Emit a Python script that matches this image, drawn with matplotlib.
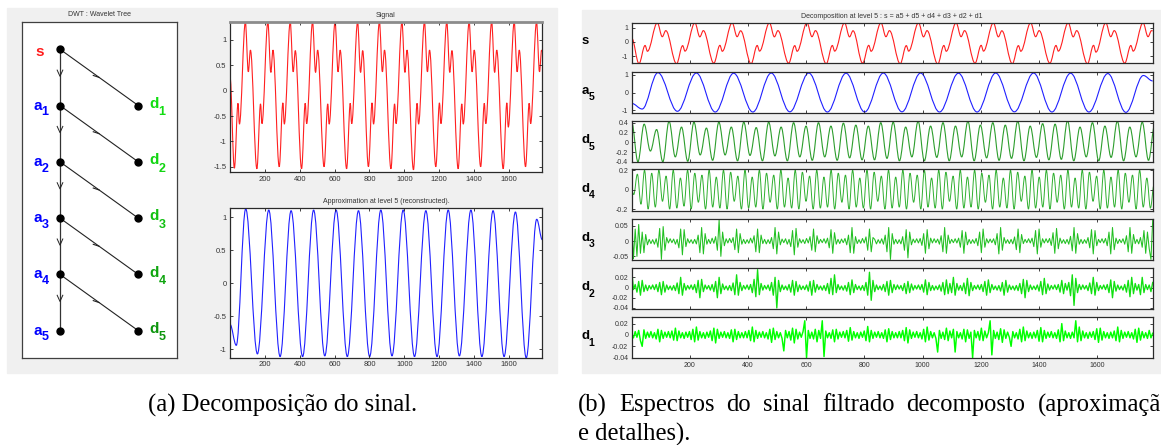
import numpy as np
import matplotlib
matplotlib.use("Agg")
import matplotlib.pyplot as plt
from matplotlib.path import Path
from matplotlib.patches import PathPatch, Rectangle
from matplotlib.ticker import FuncFormatter

W, H = 1161, 445
plt.rcParams['axes.unicode_minus'] = False

# signal s : extrema (sample index, value)
sig_x = [1, 26, 47, 55, 89, 106, 118,
         155, 176, 184, 218, 235, 247,
         283, 304, 312, 346, 363, 375,
         411, 432, 440, 474, 491, 503,
         540, 561, 569, 603, 620, 632,
         669, 690, 698, 732, 749, 761,
         794, 815, 823, 857, 874, 886,
         923, 944, 952, 986, 1003, 1015,
         1052, 1073, 1081, 1115, 1132, 1144,
         1180, 1201, 1209, 1243, 1260, 1272,
         1308, 1329, 1337, 1371, 1388, 1400,
         1437, 1458, 1466, 1500, 1517, 1529,
         1566, 1587, 1595, 1629, 1646, 1658,
         1694, 1715, 1723, 1757, 1774, 1786, 1790]
sig_y = [0.28, -1.53, -0.25, -0.66, 1.35, 0.37, 0.80,
         -1.54, -0.26, -0.65, 1.35, 0.36, 0.80,
         -1.50, -0.24, -0.66, 1.35, 0.37, 0.79,
         -1.54, -0.25, -0.65, 1.35, 0.36, 0.80,
         -1.50, -0.26, -0.66, 1.35, 0.37, 0.80,
         -1.54, -0.25, -0.65, 1.35, 0.36, 0.79,
         -1.50, -0.24, -0.66, 1.35, 0.37, 0.80,
         -1.54, -0.26, -0.65, 1.35, 0.36, 0.80,
         -1.56, -0.25, -0.66, 1.35, 0.37, 0.80,
         -1.50, -0.24, -0.65, 1.35, 0.36, 0.79,
         -1.54, -0.26, -0.66, 1.35, 0.37, 0.80,
         -1.50, -0.25, -0.65, 1.35, 0.36, 0.80,
         -1.54, -0.24, -0.72, 1.35, 0.37, 0.80,
         -1.50, -0.25, -0.65, 1.35, 0.37, 0.80, 0.78]

# approximation a5 : extrema
a5_x = [1, 37, 91, 158, 223, 288, 351, 417, 480, 544, 609, 673, 737, 801, 865,
        929, 993, 1058, 1123, 1187, 1251, 1315, 1381, 1444, 1508, 1571, 1636,
        1698, 1758, 1790]
a5_y = [-0.62, -0.94, 1.13, -1.07, 1.11, -1.11, 1.10, -1.11, 1.11, -1.10, 1.11,
        -1.11, 1.10, -1.11, 1.11, -1.10, 1.11, -1.11, 1.10, -1.11, 1.11, -1.10,
        1.11, -1.11, 1.10, -1.11, 1.08, -1.13, 0.97, 0.66]

# d5 : extrema every half period (x 1/100)
d5_start, d5_step = 1, 21.38
d5 = [41, -40, 37, -18, 26, -40, 43, -30, 31, -39, 41, -26, 29, -37, 41, -26,
      31, -38, 41, -27, 30, -38, 41, -28, 31, -38, 40, -30, 33, -37, 40, -30,
      33, -37, 39, -32, 35, -36, 33, -36, 40, -33, 41, -38, 31, -30, 43, -38,
      33, -31, 40, -38, 33, -30, 43, -38, 35, -32, 40, -37, 35, -33, 43, -38,
      33, -31, 38, -36, 37, -35, 44, -38, 31, -30, 40, -38, 33, -31, 43, -38,
      31, -30, 41, -37, 35]

# d4 : extrema every half period (x 1/100)
d4_start, d4_step = -4.2, 12.32
d4 = [5, -5, 16, -15, 20, -20, 17, -18, 20, -12, 14, -20, 20, -19, 12, -17,
      20, -20, 17, -13, 15, -20, 20, -18, 13, -19, 20, -20, 18, -12, 14, -20,
      20, -19, 13, -18, 20, -20, 17, -13, 15, -20, 20, -18, 12, -19, 20, -20,
      18, -12, 14, -20, 20, -19, 13, -18, 20, -20, 17, -13, 15, -20, 20, -18,
      12, -19, 20, -20, 18, -12, 14, -20, 20, -19, 13, -18, 20, -20, 17, -13,
      15, -20, 20, -18, 12, -19, 20, -20, 18, -12, 14, -20, 20, -19, 13, -18,
      20, -20, 17, -13, 15, -20, 20, -18, 12, -19, 20, -20, 18, -12, 14, -20,
      20, -19, 13, -18, 20, -20, 17, -13, 15, -20, 20, -18, 12, -19, 20, -20,
      18, -12, 14, -20, 20, -19, 13, -18, 20, -20, 17, -13, 15, -20, 20, -18,
      12, -19, 5]

# d3, d2, d1 : samples every 6 points (x 1/1000)
d3 = [70, -58, 40, -50, 55, -40, 30, -38, 22, -12,
      6, -8, 5, -10, 8, -20, 42, -60, 48, -30, 12,
      -6, 8, -5, 7, -10, 6, -22, 40, -45, 38, -18,
      8, -6, 5, -8, 6, -9, 20, -38, 45, -42, 25,
      -10, 6, -8, 10, -7, 15, -30, 70, -50, 30,
      -15, 8, -6, 9, -5, 12, -28, 40, -38, 25, -10,
      6, -8, 5, -7, 10, -6, 18, -35, 40, -38, 20,
      -8, 6, -9, 5, -8, 12, -25, 45, -42, 30, -12,
      7, -5, 8, -10, 6, -18, 35, -45, 42, -20,
      8, -6, 5, -8, 9, -6, 15, -30, 40, -35, 18,
      -8, 6, -5, 8, -7, 10, -22, 38, -40, 28, -10,
      6, -8, 7, -5, 9, -12, 20, -38, 45, -40, 15,
      -8, 5, -7, 9, -6, 14, -30, 40, -35, 12,
      6, -9, 5, -7, 8, -10, 20, -35, 45, -60, 25,
      -10, 6, -8, 5, -9, 15, -30, 38, -55, 30, -12,
      7, -5, 8, -6, 9, -14, 25, -40, 38, -25, 10,
      -6, 8, -5, 7, -10, 18, -35, 45, -40, 20,
      -8, 6, -5, 8, -6, 10, -20, 35, -40, 30, -12,
      6, -8, 5, -7, 9, -15, 30, -38, 40, -20, 8,
      -6, 7, -5, 8, -12, 25, -42, 45, -30, 12,
      -7, 5, -8, 6, -9, 14, -28, 40, -38, 22, -8,
      6, -5, 8, -6, 10, -18, 35, -42, 40, -20, 8,
      -6, 8, -5, 9, -14, 28, -40, 42, -25, 10,
      -7, 5, -8, 6, -10, 16, -32, 45, -40, 25, -10,
      6, -8, 5, -7, 12, -22, 38, -42, 35, -15, 6,
      -5, 8, -6, 9, -15, 30, -42, 45, -28, 10,
      -8, 6, -5, 8, -10, 18, -35, 45, -40, 22, -8,
      6, -9, 12, -20, 35, -40, 30, -25, -60, 70]

d2 = [36, -4, 6, -9, 12, -15, 14, -8, 5, -6, 4,
      -3, 5, -4, 6, -8, 10, -14, 12, -9, 5, -4,
      3, -5, 4, -6, 9, -12, 20, -15, 8, -5, 4,
      -3, 5, -4, 6, -10, 14, -20, 16, -8, 5, -3,
      4, -5, 6, -8, 12, -20, 20, -12, 7, -4, 3,
      -5, 4, -6, 9, -14, 25, -15, 10, -6, 4, -3,
      5, -4, 6, -10, 16, -18, 35, -14, 8, -5, 4,
      -3, 5, -6, 10, -15, 20, -40, 14, -8, 5, -4,
      3, -5, 6, -9, 14, -15, 12, -8, 5, -4, 3,
      -4, 5, -7, 12, -15, 14, -9, 6, -4, 3, -5,
      4, -6, 8, -12, 18, -14, 25, -10, 6, -4, 3,
      -5, 4, -7, 10, -14, 15, -10, 6, -4, 3, -5,
      4, -6, 10, -15, 30, -25, 14, -8, 5, -4, 3,
      -5, 6, -8, 12, -15, 14, -10, 6, -4, 5, -3,
      4, -6, 8, -12, 12, -10, 7, -5, 4, -3, 5,
      -4, 6, -9, 15, -14, 10, -6, 4, -5, 3, -4,
      5, -7, 10, -14, 15, -12, 8, -10, 20, -15, 8,
      -5, 4, -6, 9, -12, 18, -16, 10, -6, 4, -3,
      5, -4, 6, -8, 12, -15, 15, -10, 6, -4, 3,
      -5, 4, -7, 10, -15, 14, -9, 5, -4, 3, -5,
      4, -6, 8, -12, 16, -20, 14, -8, 5, -4, 3,
      -4, 5, -7, 12, -14, 18, -12, 7, -5, 4, -3,
      5, -4, 6, -9, 14, -12, 8, -5, 10, -16, 25,
      -35, 18, -10, 6, -4, 5, -3, 4, -6, 9, -12,
      20, -15, 10, -6, 4, -3, 5, -4, 6, -10, 15,
      -20, 12, -7, 5, -4, 3, -5, 6, -9, 14, -18,
      20, -12, 8, -5, 6, -14, 20, -10, 6, -4, 5, -8, 10]

d1 = [2, -5, 6, -4, 8, -10, -20, 9, -6, 5, -4,
      6, -5, 4, -7, 10, -12, 8, -6, 5, -4, 6,
      -5, 7, -9, 12, -10, 7, -5, 4, -6, 5, -4,
      6, -8, 10, -12, 14, -9, 6, -5, 4, -6, 5,
      -4, 7, -10, 12, -14, 10, -6, 5, -4, 6, -5,
      4, -6, 9, -12, 10, -8, 6, -5, 4, -5, 6,
      -5, 8, -10, 14, -12, 8, -6, 5, -4, 6, -5,
      4, -7, 10, -13, 12, -8, 6, -5, 4, -6, -28,
      8, -5, 6, -9, 12, -14, 10, -7, 5, -4, 6,
      25, -40, 8, -6, 5, -7, 10, -12, 8, -6, 25,
      -38, 7, -5, 4, -6, 9, -12, 10, -7, 5, -4,
      6, -5, 8, -11, 13, -9, 6, -5, 4, -6, 5,
      -4, 7, -10, 15, -12, 8, -6, 5, -4, 6, -5,
      4, -6, 9, -12, 11, -8, 6, -5, 4, -5, 6,
      -5, 8, -10, 13, -14, 9, -6, 5, -4, 6, -5,
      4, -7, 10, -12, 14, -9, 6, -5, 4, -6, -30,
      8, -6, 5, -8, 12, -10, 7, -5, 10, -30, 6,
      -5, 4, -7, 10, -12, 9, -6, 5, -40, 8, -5,
      6, -9, 12, -10, 7, -5, 4, 25, -35, 8, -6,
      5, -8, 11, -13, 9, -6, 5, -4, -20, 6, -5,
      4, -7, 10, -12, 14, -10, 7, -5, 4, -6, 5,
      -5, 8, -11, 13, -12, 8, -6, 5, -4, 6, -5,
      4, -6, 9, -12, 20, -10, 7, -5, 4, -6, 5,
      -5, 25, -12, 14, -10, 7, -5, 4, -6, 5, -4,
      6, -8, 11, -13, 12, -9, 6, -5, 4, -6, 5,
      -5, 7, -10, 14, -12, 8, -6, 5, -4, 6, -5,
      4, -7, 10, -13, 12, -9, 6, -5, 4, -6, 8, -5, 3]

x_ticks = [200, 400, 600, 800, 1000, 1200, 1400, 1600]

caption_a = '(a) Decomposição do sinal.'
caption_b1 = '(b) Espectros do sinal filtrado decomposto (aproximação'
caption_b2 = 'e detalhes).'

RED = '#ff2020'
BLUE = '#2020ff'
row_colors = {'d5': '#2e9e2e', 'd4': '#30b030', 'd3': '#22c022',
              'd2': '#10e010', 'd1': '#00ff00'}
tree_d_colors = ['#11dd11', '#11d511', '#11c011', '#0fa50f', '#0c950c']


def px(x0, y0, x1, y1):
    return [x0 / W, 1 - y1 / H, (x1 - x0) / W, (y1 - y0) / H]


def smooth(ax, x, y, color, lw=0.8):
    # cubic segments between consecutive extrema, flat at each extremum
    x = np.asarray(x, float)
    y = np.asarray(y, float)
    verts = [(x[0], y[0])]
    codes = [Path.MOVETO]
    for i in range(len(x) - 1):
        dx = x[i + 1] - x[i]
        verts += [(x[i] + 0.36 * dx, y[i]), (x[i + 1] - 0.36 * dx, y[i + 1]),
                  (x[i + 1], y[i + 1])]
        codes += [Path.CURVE4] * 3
    ax.add_patch(PathPatch(Path(verts, codes), fill=False, ec=color, lw=lw))


def style(ax, ylim, yticks, xlabels=True, size=5.5):
    ax.set_xlim(1, 1790)
    ax.set_ylim(ylim)
    ax.set_xticks(x_ticks)
    ax.set_yticks(yticks)
    ax.yaxis.set_major_formatter(FuncFormatter(lambda v, p: f"{v:g}"))
    ax.tick_params(direction='in', length=2.5, width=0.6, top=True, right=True,
                   labelsize=size, labelcolor='#333333', color='#222222', pad=2.5)
    if not xlabels:
        ax.tick_params(labelbottom=False)
    for s in ax.spines.values():
        s.set_color('#2a2a2a')
        s.set_linewidth(0.9)
    for lab in ax.get_xticklabels() + ax.get_yticklabels():
        lab.set_family('Liberation Sans')


def ftext(x, y, s, **kw):
    return fig.text(x / W, 1 - y / H, s, **kw)


fig = plt.figure(figsize=(W / 100, H / 100), dpi=100)

# grey panels
fig.patches.append(Rectangle((7 / W, 1 - 373 / H), 550 / W, 365 / H,
                             transform=fig.transFigure, color='#f0f0f0', zorder=-5))
fig.patches.append(Rectangle((582 / W, 1 - 373 / H), 579 / W, 363 / H,
                             transform=fig.transFigure, color='#f0f0f0', zorder=-5))

# ---- wavelet tree ----
tr = fig.add_axes(px(21.7, 21.7, 177.3, 358.3))
tr.set_xlim(-0.489, 1.498)
tr.set_ylim(5.49, -0.49)
tr.set_xticks([])
tr.set_yticks([])
for s in tr.spines.values():
    s.set_color('#404040')
    s.set_linewidth(0.9)
levels = [0, 1, 2, 3, 4, 5]
tr.plot([0, 0], [0, 5], color='#333333', lw=0.9)
for i in levels[:-1]:
    tr.plot([0, 1], [i, i + 1], color='#222222', lw=0.8)
    t = i + 0.48
    tr.plot([-0.036, 0, 0.036], [t - 0.11, t, t - 0.11], color='#222222', lw=0.7)
    tx, ty = 0.5, i + 0.5
    tr.plot([tx - 0.075, tx], [ty - 0.035, ty], color='#222222', lw=0.8)
tr.plot([0] * 6, levels, 'o', color='k', ms=5)
tr.plot([1] * 5, levels[1:], 'o', color='k', ms=5)
tr.text(-0.255, 0.04, 's', color='#ff1a1a', fontsize=11, fontweight='bold',
        ha='center', va='center', family='Liberation Sans')
for i in levels[1:]:
    tr.text(-0.287, i, 'a', color='#0000ff', fontsize=11, fontweight='bold',
            ha='center', va='center', family='Liberation Sans')
    tr.text(-0.19, i + 0.12, str(i), color='#0000ff', fontsize=9, fontweight='bold',
            ha='center', va='center', family='Liberation Sans')
    c = tree_d_colors[i - 1]
    tr.text(1.197, i - 0.03, 'd', color=c, fontsize=11, fontweight='bold',
            ha='center', va='center', family='Liberation Sans')
    tr.text(1.303, i + 0.12, str(i), color=c, fontsize=9, fontweight='bold',
            ha='center', va='center', family='Liberation Sans')
ftext(99.5, 15, 'DWT : Wavelet Tree', ha='center', va='center', fontsize=5,
      color='#333333', family='Liberation Sans')

# ---- signal and approximation ----
ax1 = fig.add_axes(px(230, 21.7, 542.3, 172.3))
smooth(ax1, sig_x, sig_y, RED, 0.8)
style(ax1, (-1.61, 1.36), [-1.5, -1, -0.5, 0, 0.5, 1])
ax1.spines['top'].set_color('#8c8c8c')
ax1.spines['top'].set_linewidth(2)
ftext(386, 15.3, 'Signal', ha='center', va='center', fontsize=5,
      color='#333333', family='Liberation Sans')

ax2 = fig.add_axes(px(230, 208.3, 542.3, 357.7))
smooth(ax2, a5_x, a5_y, BLUE, 0.8)
style(ax2, (-1.127, 1.136), [-1, -0.5, 0, 0.5, 1])
ftext(386, 202, 'Approximation at level 5 (reconstructed).', ha='center',
      va='center', fontsize=5, color='#333333', family='Liberation Sans')

# ---- decomposition rows ----
rows = [('s', 22.7, 63.3), ('a5', 72, 112.7), ('d5', 120.7, 162.3),
        ('d4', 169.3, 210.7), ('d3', 219, 260), ('d2', 268.3, 309),
        ('d1', 317.3, 358.3)]
ylims = {'s': (-1.51, 1.36), 'a5': (-1.15, 1.17), 'd5': (-0.41, 0.44),
         'd4': (-0.217, 0.21), 'd3': (-0.062, 0.073), 'd2': (-0.042, 0.0377),
         'd1': (-0.041, 0.0311)}
yticks = {'s': [-1, 0, 1], 'a5': [-1, 0, 1], 'd5': [-0.4, -0.2, 0, 0.2, 0.4],
          'd4': [-0.2, 0, 0.2], 'd3': [-0.05, 0, 0.05],
          'd2': [-0.04, -0.02, 0, 0.02], 'd1': [-0.04, -0.02, 0, 0.02]}
line_w = {'d3': 0.75, 'd2': 0.95, 'd1': 1.05}

for name, top, bot in rows:
    ax = fig.add_axes(px(631.7, top, 1152.7, bot))
    if name == 's':
        smooth(ax, sig_x, sig_y, RED, 0.8)
    elif name == 'a5':
        smooth(ax, a5_x, a5_y, BLUE, 0.8)
    elif name == 'd5':
        xs = d5_start + d5_step * np.arange(len(d5))
        smooth(ax, xs, np.array(d5) / 100, row_colors[name], 0.8)
    elif name == 'd4':
        xs = d4_start + d4_step * np.arange(len(d4))
        smooth(ax, xs, np.array(d4) / 100, row_colors[name], 0.7)
    else:
        vals = {'d3': d3, 'd2': d2, 'd1': d1}[name]
        xs = np.linspace(1, 1790, len(vals))
        ax.plot(xs, np.array(vals) / 1000, color=row_colors[name], lw=line_w[name])
    style(ax, ylims[name], yticks[name], xlabels=(name == 'd1'), size=5)
    mid = (top + bot) / 2
    ftext(585, mid - 1.5, name[0], ha='center', va='center', fontsize=9.5,
          fontweight='bold', family='Liberation Sans')
    if len(name) > 1:
        ftext(591.5, mid + 5, name[1], ha='center', va='center', fontsize=7.5,
              fontweight='bold', family='Liberation Sans')

ftext(892, 16, 'Decomposition at level 5 : s = a5 + d5 + d4 + d3 + d2 + d1',
      ha='center', va='center', fontsize=5, color='#333333', family='Liberation Sans')

# ---- captions ----
cap = dict(va='center', fontsize=17.7, family='Liberation Serif')
ftext(283, 405, caption_a, ha='center', **cap)
ftext(578, 434, caption_b2, ha='left', **cap)

# first line of (b) is justified, so its words are spread to the line end
renderer = fig.canvas.get_renderer()
words = caption_b1.split(' ')
wtexts = [ftext(578, 405, w, ha='left', **cap) for w in words]
widths = [t.get_window_extent(renderer).width for t in wtexts]
line_end = 1173
gap = (line_end - 578 - sum(widths)) / (len(words) - 1)
xpos = 578
for t, w in zip(wtexts, widths):
    t.set_x(xpos / W)
    xpos += w + gap

fig.savefig('out.png', dpi=100)
